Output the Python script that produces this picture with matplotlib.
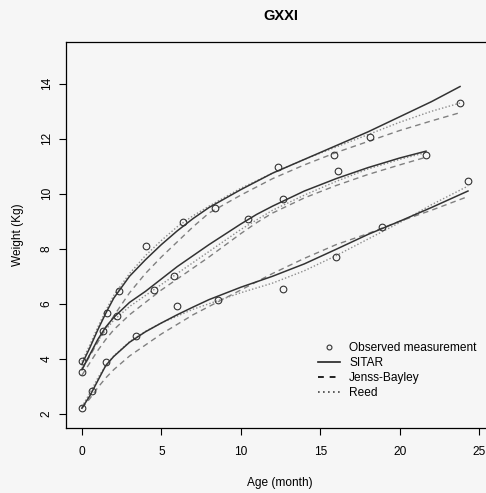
import matplotlib.pyplot as plt
import numpy as np

plt.rcParams['font.family'] = ['Liberation Sans', 'DejaVu Sans']

# observed measurements for the three children
obs_age_A = [0, 1.55, 2.33, 4.01, 6.34, 8.4, 12.36, 15.87, 18.14, 23.8]
obs_wt_A = [3.93, 5.66, 6.46, 8.1, 8.98, 9.47, 10.99, 11.42, 12.08, 13.3]
obs_age_B = [0, 1.34, 2.22, 4.55, 5.81, 10.45, 12.68, 16.14, 21.66]
obs_wt_B = [3.5, 5.0, 5.57, 6.51, 7.0, 9.07, 9.8, 10.84, 11.42]
obs_age_C = [0, 0.65, 1.51, 3.4, 5.96, 8.55, 12.68, 16.0, 18.87, 24.3]
obs_wt_C = [2.2, 2.81, 3.87, 4.81, 5.9, 6.12, 6.55, 7.7, 8.78, 10.47]

# fitted curves
ages_A = [0, 0.5, 1, 1.5, 2, 3, 4, 5, 6, 7, 8, 10, 12, 14, 16, 18, 20, 22, 23.8]
sitar_A = [3.8, 4.4, 5.05, 5.65, 6.2, 7.0, 7.6, 8.15, 8.65, 9.1, 9.5, 10.15, 10.75, 11.25, 11.75, 12.25, 12.8, 13.35, 13.9]
jb_A = [3.6, 4.1, 4.6, 5.1, 5.55, 6.4, 7.1, 7.7, 8.25, 8.8, 9.3, 9.95, 10.55, 11.05, 11.5, 11.9, 12.3, 12.65, 12.95]
reed_A = [3.9, 4.5, 5.15, 5.75, 6.3, 7.1, 7.75, 8.3, 8.8, 9.2, 9.55, 10.2, 10.75, 11.25, 11.7, 12.15, 12.6, 13.0, 13.3]

ages_B = [0, 0.5, 1, 1.5, 2, 3, 4, 5, 6, 7, 8, 10, 11, 12, 14, 16, 18, 20, 21.66]
sitar_B = [3.6, 4.15, 4.7, 5.15, 5.5, 6.05, 6.45, 6.9, 7.35, 7.75, 8.15, 8.9, 9.25, 9.55, 10.1, 10.55, 10.95, 11.3, 11.55]
jb_B = [3.4, 3.85, 4.3, 4.7, 5.05, 5.6, 6.05, 6.5, 6.9, 7.3, 7.7, 8.55, 8.95, 9.3, 9.85, 10.3, 10.7, 11.05, 11.33]
reed_B = [3.65, 4.15, 4.65, 5.05, 5.4, 5.9, 6.3, 6.7, 7.1, 7.5, 7.9, 8.7, 9.05, 9.4, 9.95, 10.45, 10.9, 11.25, 11.5]

ages_C = [0, 0.5, 1, 1.5, 2, 3, 4, 5, 6, 7, 8, 10, 12, 14, 16, 18, 20, 22, 24.3]
sitar_C = [2.2, 2.65, 3.2, 3.75, 4.08, 4.6, 4.98, 5.3, 5.6, 5.88, 6.15, 6.6, 7.0, 7.45, 7.98, 8.52, 9.0, 9.5, 10.1]
jb_C = [2.2, 2.55, 2.95, 3.3, 3.6, 4.1, 4.5, 4.9, 5.25, 5.6, 5.9, 6.5, 7.1, 7.65, 8.15, 8.55, 9.0, 9.4, 9.9]
reed_C = [2.25, 2.75, 3.3, 3.75, 4.1, 4.62, 5.0, 5.3, 5.55, 5.8, 6.0, 6.4, 6.75, 7.2, 7.75, 8.35, 8.95, 9.6, 10.28]

bg = '#f6f6f6'
fig = plt.figure(figsize=(4.86, 4.93), dpi=100, facecolor=bg)
ax = fig.add_axes([0.1358, 0.1318, 0.8827, 0.783], facecolor=bg)

children = [
    (ages_A, sitar_A, jb_A, reed_A, obs_age_A, obs_wt_A),
    (ages_B, sitar_B, jb_B, reed_B, obs_age_B, obs_wt_B),
    (ages_C, sitar_C, jb_C, reed_C, obs_age_C, obs_wt_C),
]
for ages, s, j, r, oa, ow in children:
    ax.plot(ages, j, color='#808080', lw=1.0, ls=(0, (4, 3)))
    ax.plot(ages, r, color='#8c8c8c', lw=1.0, ls=(0, (1, 1.5)))
    ax.plot(ages, s, color='#333333', lw=1.1)
    ax.plot(oa, ow, 'o', mfc='none', mec='#333333', ms=4.8, mew=0.8)

# legend handles
h_obs, = ax.plot([], [], 'o', mfc='none', mec='#333333', ms=3.5, mew=0.8)
h_sit, = ax.plot([], [], color='#222222', lw=1.2)
h_jb, = ax.plot([], [], color='#222222', lw=1.4, ls=(0, (3, 3)))
h_reed, = ax.plot([], [], color='#444444', lw=1.2, ls=(0, (1, 2)))
ax.legend([h_obs, h_sit, h_jb, h_reed],
          ['Observed measurement', 'SITAR', 'Jenss-Bayley', 'Reed'],
          loc='upper left', bbox_to_anchor=(318 / 486, 1 - 342 / 493),
          bbox_transform=fig.transFigure, frameon=False, fontsize=8.6,
          labelspacing=0.25, handlelength=1.8, handletextpad=0.8,
          borderpad=0, borderaxespad=0)

ax.set_xlim(-1, 26)
ax.set_ylim(1.48, 15.52)
ax.set_xticks([0, 5, 10, 15, 20, 25])
ax.set_yticks([2, 4, 6, 8, 10, 12, 14])
ax.tick_params(direction='out', length=5, width=0.8, labelsize=8.6)
ax.tick_params(axis='x', pad=8)
ax.tick_params(axis='y', pad=4.5)
for lab in ax.get_yticklabels():
    lab.set_rotation(90)
    lab.set_va('center')
for sp in ax.spines.values():
    sp.set_linewidth(0.9)

ax.set_title('GXXI', fontsize=10.5, fontweight='bold', pad=15.5)
ax.set_xlabel('Age (month)', fontsize=8.6)
ax.set_ylabel('Weight (Kg)', fontsize=8.6)
ax.xaxis.set_label_coords((280 - 66) / (495 - 66), -(477 - 428) / (428 - 42))
ax.yaxis.set_label_coords(-(66 - 24) / (495 - 66), 0.5)

plt.savefig('out.png', dpi=100, facecolor=bg)
